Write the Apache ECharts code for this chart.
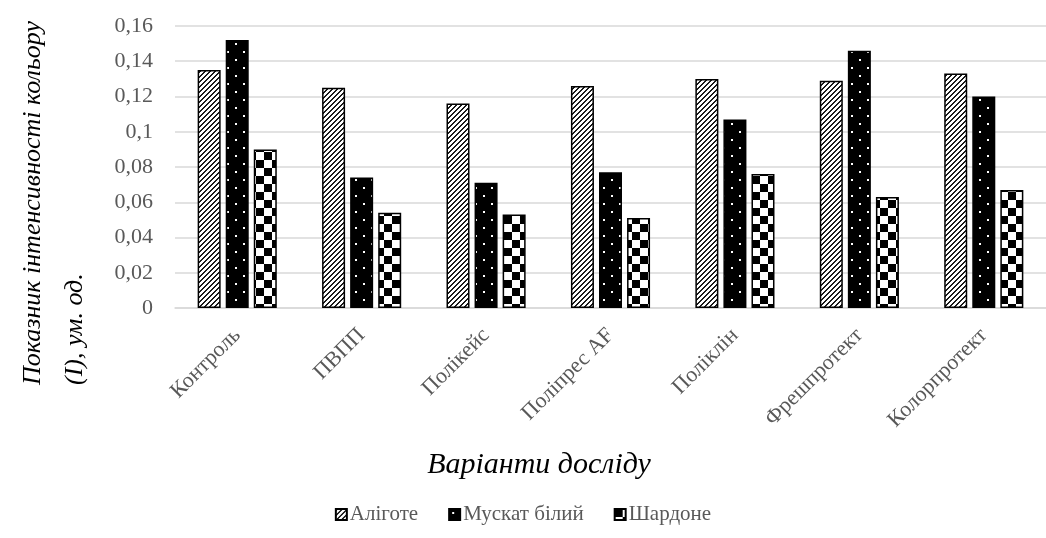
<!DOCTYPE html>
<html>
<head>
<meta charset="utf-8">
<script src="https://cdn.jsdelivr.net/npm/echarts@6/dist/echarts.min.js"></script>
<style>
  html, body { margin: 0; padding: 0; background: #fff; }
  #chart { width: 1046px; height: 538px; }
</style>
</head>
<body>
<div id="chart"></div>
<script>
// Variants of the experiment (fining agents) and colour-intensity readings per grape variety
const categories = ['Контроль', 'ПВПП', 'Полікейс', 'Поліпрес AF', 'Поліклін', 'Фрешпротект', 'Колорпротект'];
const seriesNames = ['Аліготе', 'Мускат білий', 'Шардоне'];
const aligote = [0.135, 0.125, 0.116, 0.126, 0.130, 0.129, 0.133];
const muscat = [0.152, 0.074, 0.071, 0.077, 0.107, 0.146, 0.120];
const chardonnay = [0.090, 0.054, 0.053, 0.051, 0.076, 0.063, 0.067];
const yTicks = [0, 0.02, 0.04, 0.06, 0.08, 0.1, 0.12, 0.14, 0.16];

const yTitleLines = ['Показник інтенсивності кольору', '(І), ум. од.'];
const xTitle = 'Варіанти досліду';

// Pattern tiles drawn on small canvases
function makeTile(w, h, paint) {
  const c = document.createElement('canvas');
  c.width = w; c.height = h;
  const ctx = c.getContext('2d');
  paint(ctx, w, h);
  return c;
}
// upward diagonal hatch
const hatchTile = makeTile(5, 5, (ctx, w, h) => {
  ctx.fillStyle = '#fff';
  ctx.fillRect(0, 0, w, h);
  ctx.fillStyle = '#1a1a1a';
  for (let y = 0; y < h; y++) {
    for (let x = 0; x < w; x++) {
      if ((x + y) % 5 < 2) ctx.fillRect(x, y, 1, 1);
    }
  }
});
// black with small white dots
const dotTile = makeTile(16, 16, (ctx, w, h) => {
  ctx.fillStyle = '#000';
  ctx.fillRect(0, 0, w, h);
  ctx.fillStyle = '#fff';
  ctx.fillRect(3, 3, 2, 2);
  ctx.fillRect(11, 11, 2, 2);
});
// checkerboard
const checkTile = makeTile(16, 16, (ctx, w, h) => {
  ctx.fillStyle = '#fff';
  ctx.fillRect(0, 0, w, h);
  ctx.fillStyle = '#000';
  ctx.fillRect(0, 0, 8, 8);
  ctx.fillRect(8, 8, 8, 8);
});

const serif = '"Liberation Serif", "DejaVu Serif", serif';
const labelColor = '#595959';

function barSeries(name, data, tile) {
  return {
    name: name,
    type: 'bar',
    data: data,
    barWidth: 23,
    barGap: '22%',
    itemStyle: {
      color: { image: tile, repeat: 'repeat' },
      borderColor: '#000',
      borderWidth: 1.5
    },
    emphasis: { disabled: true },
    animation: false
  };
}

const chart = echarts.init(document.getElementById('chart'), null, { renderer: 'canvas' });
chart.setOption({
  animation: false,
  grid: { left: 175, top: 26, width: 882, height: 282, containLabel: false },
  xAxis: {
    type: 'category',
    data: categories,
    axisLine: { lineStyle: { color: '#d9d9d9', width: 1.5 } },
    axisTick: { show: false },
    axisLabel: {
      rotate: 45,
      margin: 24,
      interval: 0,
      color: labelColor,
      fontFamily: serif,
      fontSize: 22
    }
  },
  yAxis: {
    type: 'value',
    min: yTicks[0],
    max: yTicks[yTicks.length - 1],
    interval: yTicks[1] - yTicks[0],
    axisLine: { show: false },
    axisTick: { show: false },
    splitLine: { lineStyle: { color: '#d9d9d9', width: 1.5 } },
    axisLabel: {
      margin: 22,
      color: labelColor,
      fontFamily: serif,
      fontSize: 22,
      formatter: v => String(Math.round(v * 100) / 100).replace('.', ',')
    }
  },
  legend: {
    data: seriesNames,
    bottom: 8,
    left: 'center',
    itemWidth: 11,
    itemHeight: 11,
    itemGap: 30,
    icon: 'rect',
    textStyle: { color: labelColor, fontFamily: serif, fontSize: 21, padding: [0, 0, 0, -2] }
  },
  graphic: [
    {
      type: 'text',
      x: 539,
      y: 465,
      style: { text: xTitle, font: 'italic 30px ' + serif, fill: '#000', textAlign: 'center', textVerticalAlign: 'middle' }
    },
    {
      type: 'text',
      x: 33,
      y: 385,
      rotation: Math.PI / 2,
      style: { text: yTitleLines[0], font: 'italic 26px ' + serif, fill: '#000', textAlign: 'left', textVerticalAlign: 'middle' }
    },
    {
      type: 'text',
      x: 75,
      y: 385,
      rotation: Math.PI / 2,
      style: { text: yTitleLines[1], font: 'italic 26px ' + serif, fill: '#000', textAlign: 'left', textVerticalAlign: 'middle' }
    }
  ],
  series: [
    barSeries(seriesNames[0], aligote, hatchTile),
    barSeries(seriesNames[1], muscat, dotTile),
    barSeries(seriesNames[2], chardonnay, checkTile)
  ]
});
</script>
</body>
</html>
